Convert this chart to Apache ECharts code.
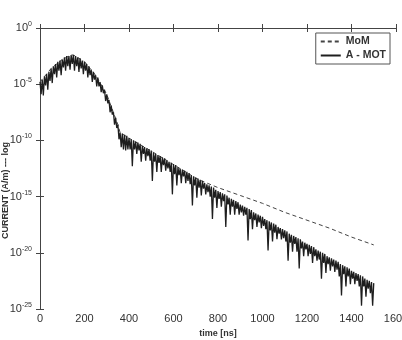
<!DOCTYPE html>
<html>
<head>
<meta charset="utf-8">
<script src="https://cdn.jsdelivr.net/npm/echarts@6/dist/echarts.min.js"></script>
<style>
  html, body { margin: 0; padding: 0; background: #fff; }
  #chart { width: 402px; height: 340px; }
</style>
</head>
<body>
<div id="chart"></div>
<script>
// time axis (ns) and log10 current values
const xMin = 0, xMax = 1600, xStep = 200
const yMinExp = -25, yMaxExp = 0, yStepExp = 5

// MoM (dashed) — sparse points, log10 of current
const momTime = [0, 50, 100, 140, 150, 200, 250, 300, 350, 360, 400, 500, 600, 700, 720, 800, 900, 1000, 1100, 1200, 1300, 1400, 1500]
const momExp = [-4.8, -3.6, -2.8, -2.4, -2.4, -3.0, -4.2, -5.9, -8.6, -9.3, -9.8, -10.95, -12.15, -13.35, -13.55, -14.2, -14.9, -15.6, -16.4, -17.1, -17.8, -18.6, -19.3]

// A-MOT: upper edge every 10 ns (t = 0, 10, ... 1500)
const amotStep = 10
const amotTop = [
  -4.8, -4.6, -4.3, -4.1, -3.9, -3.6, -3.4, -3.2, -3.0, -2.9,
  -2.8, -2.6, -2.5, -2.5, -2.4, -2.4, -2.5, -2.6, -2.7, -2.9,
  -3.0, -3.2, -3.4, -3.7, -3.9, -4.2, -4.4, -4.8, -5.1, -5.5,
  -5.9, -6.4, -6.9, -7.5, -8.0, -8.6, -9.3, -9.4, -9.5, -9.6,
  -9.8, -9.9, -10.0, -10.1, -10.2, -10.3, -10.5, -10.6, -10.7, -10.8,
  -10.9, -11.1, -11.2, -11.3, -11.4, -11.5, -11.6, -11.8, -11.9, -12.0,
  -12.1, -12.2, -12.4, -12.5, -12.6, -12.7, -12.8, -12.9, -13.1, -13.2,
  -13.3, -13.4, -13.5, -13.6, -13.8, -13.9, -14.0, -14.1, -14.2, -14.4,
  -14.5, -14.6, -14.7, -14.8, -14.9, -15.1, -15.2, -15.3, -15.4, -15.5,
  -15.7, -15.8, -15.9, -16.0, -16.1, -16.2, -16.4, -16.5, -16.6, -16.7,
  -16.8, -17.0, -17.1, -17.2, -17.3, -17.4, -17.5, -17.7, -17.8, -17.9,
  -18.0, -18.1, -18.3, -18.4, -18.5, -18.6, -18.7, -18.8, -19.0, -19.1,
  -19.2, -19.3, -19.4, -19.5, -19.7, -19.8, -19.9, -20.0, -20.1, -20.3,
  -20.4, -20.5, -20.6, -20.7, -20.8, -21.0, -21.1, -21.2, -21.3, -21.4,
  -21.6, -21.7, -21.8, -21.9, -22.0, -22.1, -22.3, -22.4, -22.5, -22.6,
  -22.7
]
// A-MOT: dips in between (t = 5, 15, ... 1495)
const amotDip = [
  -5.9, -6.0, -5.1, -5.5, -4.7, -4.9, -4.1, -4.4, -3.8, -4.2,
  -3.5, -3.8, -3.4, -3.7, -3.2, -3.8, -3.4, -3.9, -3.6, -4.1,
  -3.8, -4.4, -4.2, -4.8, -4.6, -5.2, -5.2, -5.7, -5.8, -6.5,
  -6.7, -7.5, -7.7, -8.6, -8.9, -9.9, -10.6, -10.8, -10.9, -10.8,
  -10.8, -12.3, -10.8, -11.2, -10.9, -11.9, -11.2, -11.8, -11.4, -11.8,
  -13.6, -11.9, -12.8, -12.0, -12.8, -12.2, -12.7, -12.5, -12.8, -14.8,
  -13.0, -14.0, -13.1, -13.8, -13.2, -13.8, -13.6, -13.9, -15.8, -14.0,
  -15.1, -14.2, -14.9, -14.3, -14.8, -14.6, -15.0, -17.0, -15.1, -16.0,
  -15.2, -15.9, -15.4, -17.7, -15.7, -16.6, -15.9, -16.6, -16.1, -16.6,
  -16.4, -16.7, -16.6, -18.9, -17.0, -17.9, -17.1, -17.7, -17.3, -17.8,
  -17.6, -17.9, -19.8, -18.0, -19.0, -18.2, -18.8, -18.3, -18.8, -18.7,
  -19.0, -20.7, -19.1, -19.9, -19.2, -19.9, -21.4, -19.6, -20.3, -19.7,
  -20.3, -20.1, -20.9, -20.3, -20.7, -20.6, -22.3, -20.9, -21.8, -21.0,
  -21.6, -21.2, -21.7, -21.5, -22.1, -23.8, -21.9, -23.0, -22.1, -22.8,
  -22.3, -22.8, -22.5, -23.0, -24.7, -23.0, -23.9, -23.2, -23.6, -24.7
]

const font = 'Liberation Sans, Arial, Helvetica, sans-serif'
const axisColor = '#444'
const textColor = '#333'

const chart = echarts.init(document.getElementById('chart'), null, { renderer: 'canvas' })

const momData = momTime.map((t, i) => [t, momExp[i]])
const amotData = []
amotTop.forEach((v, i) => {
  amotData.push([i * amotStep, v])
  if (i < amotDip.length) amotData.push([i * amotStep + amotStep / 2, amotDip[i]])
})

const boxAxis = {
  axisLine: { show: true, lineStyle: { color: axisColor, width: 1 } },
  axisTick: { show: true, inside: true, length: 4, lineStyle: { color: axisColor } },
  splitLine: { show: false }
}

const option = {
  backgroundColor: '#fff',
  animation: false,
  grid: { left: 40, right: 6, top: 28, bottom: 31, containLabel: false, outerBoundsMode: 'none' },
  legend: {
    data: ['MoM', 'A - MOT'],
    orient: 'vertical',
    right: 12,
    top: 33,
    backgroundColor: '#fff',
    borderColor: '#555',
    borderWidth: 1,
    borderRadius: 0,
    padding: [3, 4, 3, 4],
    itemGap: 3,
    itemWidth: 20,
    itemHeight: 10,
    itemStyle: { opacity: 0 },
    textStyle: { fontFamily: font, fontSize: 10.5, fontWeight: 'bold', color: textColor }
  },
  xAxis: [
    Object.assign({
      type: 'value',
      position: 'bottom',
      min: xMin, max: xMax, interval: xStep,
      name: 'time [ns]',
      nameLocation: 'middle',
      nameGap: 20,
      nameTextStyle: { fontFamily: font, fontSize: 9, fontWeight: 'bold', color: textColor },
      axisLabel: { fontFamily: font, fontSize: 11, color: textColor, margin: 4, formatter: v => String(v) }
    }, boxAxis),
    Object.assign({
      type: 'value',
      position: 'top',
      min: xMin, max: xMax, interval: xStep,
      axisLabel: { show: false }
    }, boxAxis)
  ],
  yAxis: [
    Object.assign({
      type: 'value',
      position: 'left',
      min: yMinExp, max: yMaxExp, interval: yStepExp,
      name: 'CURRENT (A/m) --- log',
      nameLocation: 'middle',
      nameGap: 30,
      nameMoveOverlap: false,
      nameTextStyle: { fontFamily: font, fontSize: 9, fontWeight: 'bold', color: textColor, padding: [0, 44, 0, 0] },
      axisLabel: {
        margin: 8,
        formatter: v => '{b|10}{e|' + (v === 0 ? '0' : v) + '}',
        rich: {
          b: { fontFamily: font, fontSize: 11, color: textColor },
          e: { fontFamily: font, fontSize: 7, color: textColor, padding: [0, 0, 8, 0] }
        }
      }
    }, boxAxis),
    Object.assign({
      type: 'value',
      position: 'right',
      min: yMinExp, max: yMaxExp, interval: yStepExp,
      axisLabel: { show: false }
    }, boxAxis)
  ],
  series: [
    {
      name: 'MoM',
      type: 'line',
      data: momData,
      showSymbol: false,
      symbol: 'none',
      lineStyle: { color: '#444', width: 1, type: [4, 3] },
      itemStyle: { color: '#444' },
      z: 2
    },
    {
      name: 'A - MOT',
      type: 'line',
      data: amotData,
      showSymbol: false,
      symbol: 'none',
      lineStyle: { color: '#1e1e1e', width: 1.3 },
      itemStyle: { color: '#1e1e1e' },
      z: 3
    }
  ]
}

chart.setOption(option)
</script>
</body>
</html>
